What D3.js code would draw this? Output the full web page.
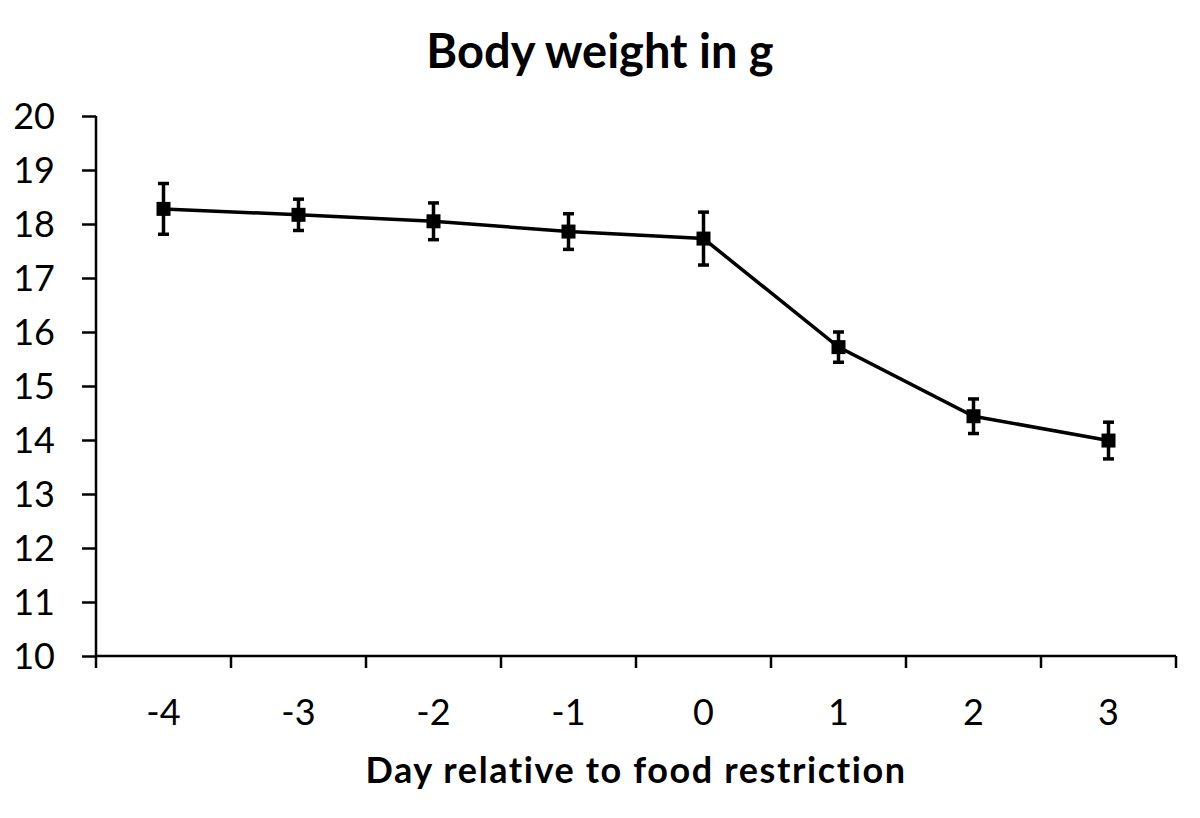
<!DOCTYPE html>
<html>
<head>
<meta charset="utf-8">
<script src="https://d3js.org/d3.v7.min.js"></script>
<style>
  body { margin: 0; background: #fff; }
  text { font-family: Lato, "Open Sans", sans-serif; fill: #000; }
</style>
</head>
<body>
<svg id="chart"></svg>
<script>
// data
var days = ["-4", "-3", "-2", "-1", "0", "1", "2", "3"];
var weight = [18.28, 18.17, 18.05, 17.86, 17.73, 15.72, 14.44, 13.99];
var sem = [0.47, 0.29, 0.34, 0.33, 0.49, 0.28, 0.32, 0.34];
var yTicks = [10, 11, 12, 13, 14, 15, 16, 17, 18, 19, 20];

var W = 1200, H = 818;
var margin = { top: 116, right: 24, bottom: 162, left: 96 };
var width = W - margin.left - margin.right,
    height = H - margin.top - margin.bottom;

var svg = d3.select("#chart").attr("width", W).attr("height", H);
var g = svg.append("g").attr("transform", "translate(" + margin.left + "," + margin.top + ")");

var x = d3.scaleBand().domain(days).range([0, 1080]);
var y = d3.scaleLinear().domain([10, 20]).range([height, 0]);

// y axis
var yAxis = g.append("g")
    .call(d3.axisLeft(y).tickValues(yTicks).tickSize(14).tickFormat(d3.format("d")));
yAxis.selectAll("line, path").attr("stroke", "#000").attr("stroke-width", 2.5);
yAxis.select(".domain").attr("d", "M0," + height + "V0");
yAxis.selectAll("text").style("font-size", "36px").attr("x", -41).attr("dy", "0.36em");

// x axis with ticks between categories
var xAxis = g.append("g").attr("transform", "translate(0," + height + ")");
xAxis.append("line").attr("x1", 0).attr("x2", x.range()[1]).attr("stroke", "#000").attr("stroke-width", 2.5);
var bounds = days.map(function (d) { return x(d); }).concat([x.range()[1]]);
xAxis.selectAll(".tk").data(bounds).join("line")
    .attr("x1", function (d) { return d; }).attr("x2", function (d) { return d; })
    .attr("y1", 0).attr("y2", 12)
    .attr("stroke", "#000").attr("stroke-width", 2.5);
xAxis.selectAll(".lbl").data(days).join("text")
    .attr("x", function (d) { return x(d) + x.bandwidth() / 2; })
    .attr("y", 69)
    .attr("text-anchor", "middle")
    .style("font-size", "36px")
    .text(function (d) { return d; });

var cx = function (i) { return x(days[i]) + x.bandwidth() / 2; };

// line
g.append("path")
    .datum(weight)
    .attr("fill", "none").attr("stroke", "#000").attr("stroke-width", 3.5)
    .attr("d", d3.line().x(function (d, i) { return cx(i); }).y(function (d) { return y(d); }));

// error bars
var eb = g.append("g").attr("stroke", "#000").attr("stroke-width", 3.5);
weight.forEach(function (v, i) {
    var x0 = cx(i);
    eb.append("line").attr("x1", x0).attr("x2", x0).attr("y1", y(v + sem[i])).attr("y2", y(v - sem[i]));
    eb.append("line").attr("x1", x0 - 5.5).attr("x2", x0 + 5.5).attr("y1", y(v + sem[i])).attr("y2", y(v + sem[i]));
    eb.append("line").attr("x1", x0 - 5.5).attr("x2", x0 + 5.5).attr("y1", y(v - sem[i])).attr("y2", y(v - sem[i]));
});

// markers
g.selectAll(".pt").data(weight).join("rect")
    .attr("x", function (d, i) { return cx(i) - 7; })
    .attr("y", function (d) { return y(d) - 7; })
    .attr("width", 14).attr("height", 14)
    .attr("fill", "#000");

// titles
svg.append("text").attr("x", 600).attr("y", 68).attr("text-anchor", "middle")
    .style("font-size", "47px").style("font-weight", "bold").text("Body weight in g");
svg.append("text").attr("x", 636).attr("y", 783).attr("text-anchor", "middle")
    .style("font-size", "36px").style("font-weight", "bold").style("letter-spacing", "1.6px")
    .text("Day relative to food restriction");
</script>
</body>
</html>
